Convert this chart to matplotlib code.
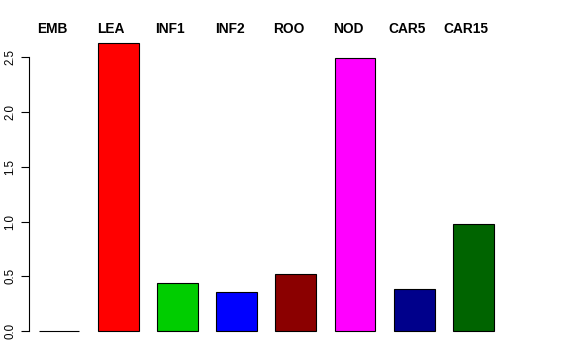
import matplotlib
matplotlib.use("Agg")
import matplotlib.pyplot as plt

# values
labels = ["EMB", "LEA", "INF1", "INF2", "ROO", "NOD", "CAR5", "CAR15"]
heights = [0.0, 2.635, 0.443, 0.357, 0.519, 2.494, 0.387, 0.98]
colors = ["#FFFFFF", "#FF0000", "#00CD00", "#0000FF", "#8B0000", "#FF00FF", "#00008B", "#006400"]
yticks = [0.0, 0.5, 1.0, 1.5, 2.0, 2.5]

plt.rcParams["font.family"] = ["Liberation Sans", "DejaVu Sans"]

fig = plt.figure(figsize=(5.76, 3.6), dpi=100)
ax = fig.add_axes([0.0503, 0.0486, 0.8385, 0.8647])

xs = list(range(len(heights)))
ax.bar(xs, heights, width=0.69, color=colors, edgecolor="black", linewidth=0.8)

ax.set_xlim(-0.507, 7.652)
ax.set_ylim(-0.105, 2.74)

for x, lab in zip(xs, labels):
    ax.text(x - 0.118, 2.724, lab, ha="center", va="baseline",
            fontsize=9.9, fontweight="bold", clip_on=False)

for s in ["top", "right", "bottom"]:
    ax.spines[s].set_visible(False)
ax.spines["left"].set_bounds(0, 2.5)
ax.spines["left"].set_linewidth(0.8)
ax.set_xticks([])
ax.set_yticks(yticks)
ax.set_yticklabels([f"{v:.1f}" for v in yticks], rotation=90, va="center", fontsize=8.3)
ax.tick_params(axis="y", length=6, width=0.8, pad=3)

fig.savefig("out.png", dpi=100)
